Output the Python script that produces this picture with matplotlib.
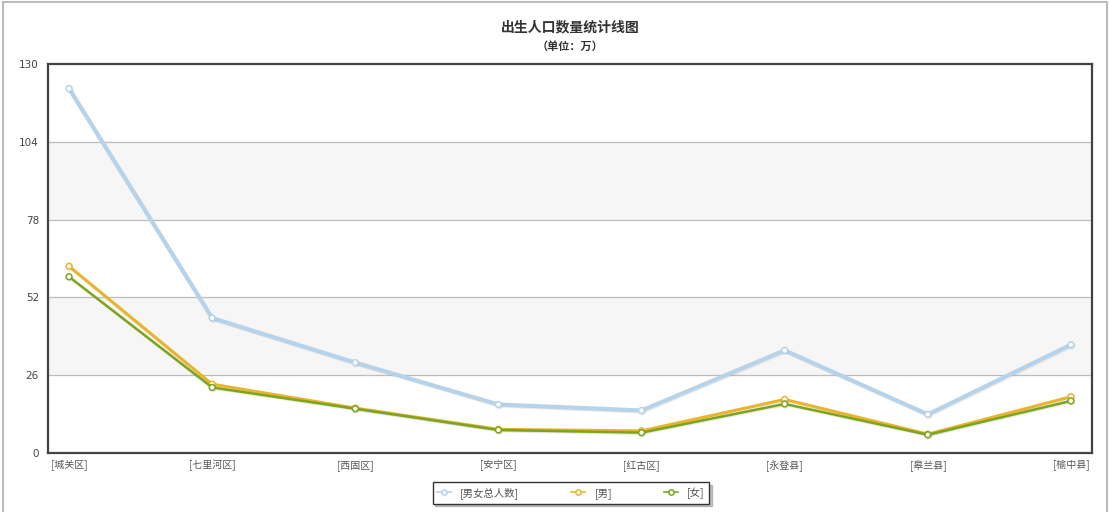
import matplotlib.pyplot as plt
import matplotlib.patheffects as pe
from matplotlib.patches import Rectangle

plt.rcParams['font.family'] = ['Noto Sans CJK SC', 'DejaVu Sans']

# data (unit: 万)
districts = ['[城关区]', '[七里河区]', '[西固区]', '[安宁区]',
             '[红古区]', '[永登县]', '[皋兰县]', '[榆中县]']
total = [121.8, 45.1, 30.2, 16.2, 14.2, 34.3, 12.9, 36.2]
male = [62.4, 23.0, 15.0, 7.9, 7.4, 17.9, 6.3, 18.8]
female = [58.9, 21.9, 14.8, 7.7, 6.8, 16.4, 6.1, 17.4]
series_names = ['[男女总人数]', '[男]', '[女]']
yticks = [0, 26, 52, 78, 104, 130]

W, H = 1109, 512
fig = plt.figure(figsize=(W / 100, H / 100), dpi=100)
ax = fig.add_axes([48 / W, (H - 453) / H, (1092 - 48) / W, (453 - 64) / H])

# alternating background bands
for i in range(len(yticks) - 1):
    if i % 2 == 1:
        ax.axhspan(yticks[i], yticks[i + 1], color='#f6f6f6', zorder=0)
for t in yticks[1:-1]:
    ax.axhline(t, color='#bdbdbd', lw=0.9, zorder=1)

x = list(range(len(districts)))
shadow = [pe.SimpleLineShadow(offset=(0.6, -0.8), shadow_color='#999999', alpha=0.2), pe.Normal()]
styles = [
    (total, '#b7d3ea', 3.0),
    (male, '#e9b52e', 2.2),
    (female, '#7ca51c', 1.8),
]
handles = []
for (vals, col, lw), name in zip(styles, series_names):
    h, = ax.plot(x, vals, color=col, lw=lw, marker='o', ms=4.2, mfc='white',
                 mec=col, mew=1.1, zorder=3, label=name, path_effects=shadow)
    handles.append(h)

ax.set_xlim(-0.147, 7.147)
ax.set_ylim(0, 130)
ax.set_yticks(yticks)
ax.set_yticklabels([str(t) for t in yticks], fontsize=7.5, color='#444444',
                   family='DejaVu Sans')
ax.set_xticks(x)
ax.set_xticklabels(districts, fontsize=7.2, color='#555555')
ax.tick_params(length=0, pad=5)
ax.tick_params(axis='y', pad=6.5)
for s in ax.spines.values():
    s.set_color('#444444')
    s.set_linewidth(1.6)

fig.text(570 / W, 1 - 27 / H, '出生人口数量统计线图', ha='center', va='center',
         fontsize=10, fontweight='bold', color='#333333')
fig.text(570 / W, 1 - 46 / H, '（单位：万）', ha='center', va='center',
         fontsize=8, fontweight='bold', color='#333333')

leg = fig.legend(handles=handles, loc='center', bbox_to_anchor=(571 / W, 1 - 493 / H),
                 ncol=3, fontsize=7.5, frameon=True, fancybox=False,
                 edgecolor='#333333', handlelength=1.3, columnspacing=5.0,
                 handletextpad=0.9, borderpad=0.45, markerscale=0.9,
                 shadow={'color': '#888888', 'alpha': 0.5, 'ox': 2, 'oy': -2})
for t in leg.get_texts():
    t.set_color('#555555')
for ln in leg.get_lines():
    ln.set_linewidth(1.2)
    ln.set_path_effects([])
leg.get_frame().set_linewidth(1.0)

# light outer frame of the widget
fig.patches.append(Rectangle((3 / W, -0.05), (1107 - 3) / W, 1 - 1.5 / H + 0.05,
                             transform=fig.transFigure, fill=False,
                             edgecolor='#bbbbbb', lw=1.5))

fig.savefig('out.png', dpi=100)
